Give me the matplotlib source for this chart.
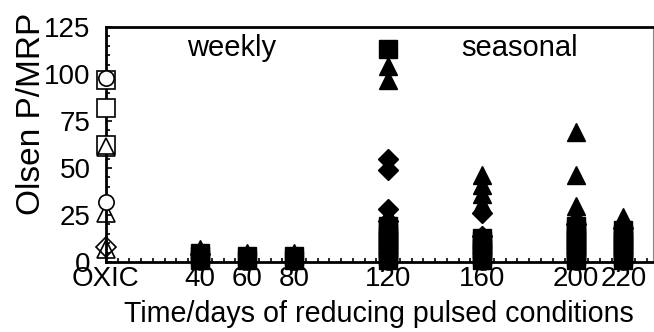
import matplotlib
matplotlib.use("Agg")
import matplotlib.pyplot as plt
from matplotlib.ticker import MultipleLocator

plt.rcParams['font.family'] = ['Liberation Sans', 'DejaVu Sans']

# Oxic (open markers, x = 0)
oxic_sq_val = [97, 82, 62]
oxic_ci_val = [98, 32]
oxic_tr_val = [61, 26, 7]
oxic_di_val = [8]

# Reducing conditions (filled markers)
sq_day = [40, 40, 40, 60, 60, 80, 80,
          120, 120, 120, 120, 120, 120, 120, 120, 120, 120, 120,
          160, 160, 160, 160, 160, 160, 160,
          200, 200, 200, 200, 200, 200, 200, 200, 200, 200,
          220, 220, 220, 220, 220, 220, 220, 220, 220]
sq_val = [1, 3, 5, 1, 3, 1, 3,
          113, 1, 3, 5, 7, 9, 11, 13, 15, 17, 19,
          1, 3, 5, 7, 9, 11, 13,
          1, 3, 5, 7, 9, 11, 13, 15, 17, 19,
          1, 3, 5, 7, 9, 11, 13, 15, 17]
ci_day = [40, 60, 80, 120, 120, 160, 160, 200, 200, 220, 220]
ci_val = [0, 0, 0, 0, 2, 0, 2, 0, 2, 0, 2]
tr_day = [40, 60, 80, 120, 120, 120, 160, 160, 160, 160, 200, 200, 200, 200, 220, 220, 220]
tr_val = [7, 5, 5, 104, 97, 25, 46, 41, 36, 31, 69, 46, 30, 25, 24, 20, 17]
di_day = [40, 120, 120, 120, 120, 160, 160, 200, 220]
di_val = [4, 55, 49, 28, 22, 26, 14, 20, 18]

x_ticks = [0, 40, 60, 80, 120, 160, 200, 220]
x_labels = ['OXIC', '40', '60', '80', '120', '160', '200', '220']
y_ticks = [0, 25, 50, 75, 100, 125]

fig = plt.figure(figsize=(6.54, 3.32), dpi=100)
ax = fig.add_axes([0.162, 0.211, 0.836, 0.708])

ms_sq, ms_tr, ms_ci, ms_di = 12.5, 13.5, 11, 13
ew = 1.2

# filled
ax.plot(sq_day, sq_val, ls='none', marker='s', ms=ms_sq, mfc='black', mec='black', clip_on=False, zorder=3)
ax.plot(ci_day, ci_val, ls='none', marker='o', ms=ms_ci, mfc='black', mec='black', clip_on=False, zorder=3)
ax.plot(tr_day, tr_val, ls='none', marker='^', ms=ms_tr, mfc='black', mec='black', clip_on=False, zorder=3)
ax.plot(di_day, di_val, ls='none', marker='D', ms=ms_di * 0.75, mfc='black', mec='black', clip_on=False, zorder=3)

# open at OXIC
ax.plot([0] * len(oxic_sq_val), oxic_sq_val, ls='none', marker='s', ms=ms_sq, mfc='white', mec='black', mew=ew, clip_on=False, zorder=4)
ax.plot([0] * len(oxic_tr_val), oxic_tr_val, ls='none', marker='^', ms=ms_tr, mfc='none', mec='black', mew=ew, clip_on=False, zorder=5)
ax.plot([0] * len(oxic_ci_val), oxic_ci_val, ls='none', marker='o', ms=ms_ci, mfc='white', mec='black', mew=ew, clip_on=False, zorder=5)
ax.plot([0] * len(oxic_di_val), oxic_di_val, ls='none', marker='D', ms=ms_di * 0.75, mfc='none', mec='black', mew=ew, clip_on=False, zorder=5)

ax.set_xlim(0, 232.5)
ax.set_ylim(0, 125)
ax.set_xticks(x_ticks)
ax.set_xticklabels(x_labels)
ax.set_yticks(y_ticks)
ax.xaxis.set_minor_locator(MultipleLocator(5))
ax.yaxis.set_minor_locator(MultipleLocator(5))
ax.tick_params(which='both', direction='in', labelsize=20, width=1.2)
ax.tick_params(which='major', length=4)
ax.tick_params(which='minor', length=3)
ax.tick_params(axis='x', which='both', top=False, pad=3)
ax.tick_params(axis='y', which='both', right=False, pad=11)

for s in ['left', 'bottom', 'top']:
    ax.spines[s].set_linewidth(2)
ax.spines['right'].set_linewidth(0.8)
ax.spines['right'].set_color('#888888')

ax.set_xlabel('Time/days of reducing pulsed conditions', fontsize=20.6, labelpad=6)
ax.set_ylabel('Olsen P/MRP', fontsize=24, va='center')
ax.yaxis.set_label_coords(-0.137, 0.63)

ax.text(53.5, 114, 'weekly', fontsize=21, ha='center', va='center')
ax.text(176, 114, 'seasonal', fontsize=21, ha='center', va='center')

fig.savefig('out.png', dpi=100)
